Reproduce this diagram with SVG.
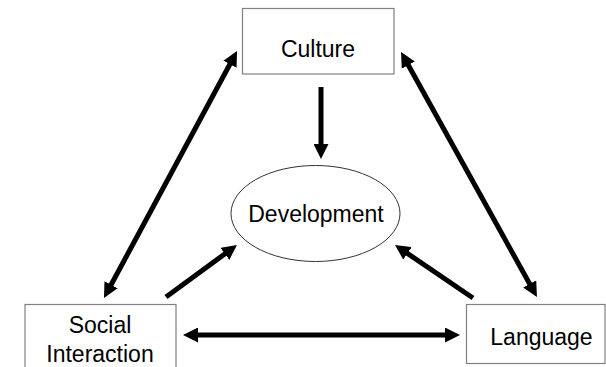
<svg xmlns="http://www.w3.org/2000/svg" width="606" height="367" viewBox="0 0 606 367">
  <style>
    .box { fill: #ffffff; stroke: #808080; stroke-width: 1.2; }
    .ell { fill: #ffffff; stroke: #333333; stroke-width: 1; }
    .lbl { font-family: "Liberation Sans", Arial, sans-serif; font-size: 23px; fill: #000000; text-anchor: middle; }
    .conn { stroke: #000000; stroke-width: 5; fill: none; }
  </style>
  <defs>
    <marker id="ah" markerUnits="userSpaceOnUse" markerWidth="15" markerHeight="15" refX="5" refY="7.5" orient="auto-start-reverse">
      <path d="M0,0 L15,7.5 L0,15 z" fill="#000000"/>
    </marker>
  </defs>
  <rect x="0" y="0" width="606" height="367" fill="#ffffff"/>
  <g id="culture">
    <rect class="box" x="242.5" y="8.5" width="151.5" height="65.5"/>
    <text class="lbl" x="318" y="57">Culture</text>
  </g>
  <g id="development">
    <ellipse class="ell" cx="315.5" cy="213.5" rx="84.5" ry="48"/>
    <text class="lbl" x="316" y="222">Development</text>
  </g>
  <g id="social-interaction">
    <rect class="box" x="25" y="304.5" width="151" height="70"/>
    <text class="lbl" x="100" y="333">Social</text>
    <text class="lbl" x="100" y="362">Interaction</text>
  </g>
  <g id="language">
    <rect class="box" x="466.5" y="304.5" width="138.5" height="59"/>
    <text class="lbl" x="541.5" y="345">Language</text>
  </g>
  <g id="connectors">
    <line class="conn" x1="232.3" y1="59.8" x2="108.7" y2="289.2" marker-start="url(#ah)" marker-end="url(#ah)"/>
    <line class="conn" x1="405.9" y1="60.7" x2="532.1" y2="288.3" marker-start="url(#ah)" marker-end="url(#ah)"/>
    <line class="conn" x1="321" y1="87" x2="321" y2="149" marker-end="url(#ah)"/>
    <line class="conn" x1="166" y1="297" x2="228.9" y2="250.9" marker-end="url(#ah)"/>
    <line class="conn" x1="473" y1="298" x2="403.3" y2="250.6" marker-end="url(#ah)"/>
    <line class="conn" x1="193" y1="335" x2="450" y2="335" marker-start="url(#ah)" marker-end="url(#ah)"/>
  </g>
</svg>
